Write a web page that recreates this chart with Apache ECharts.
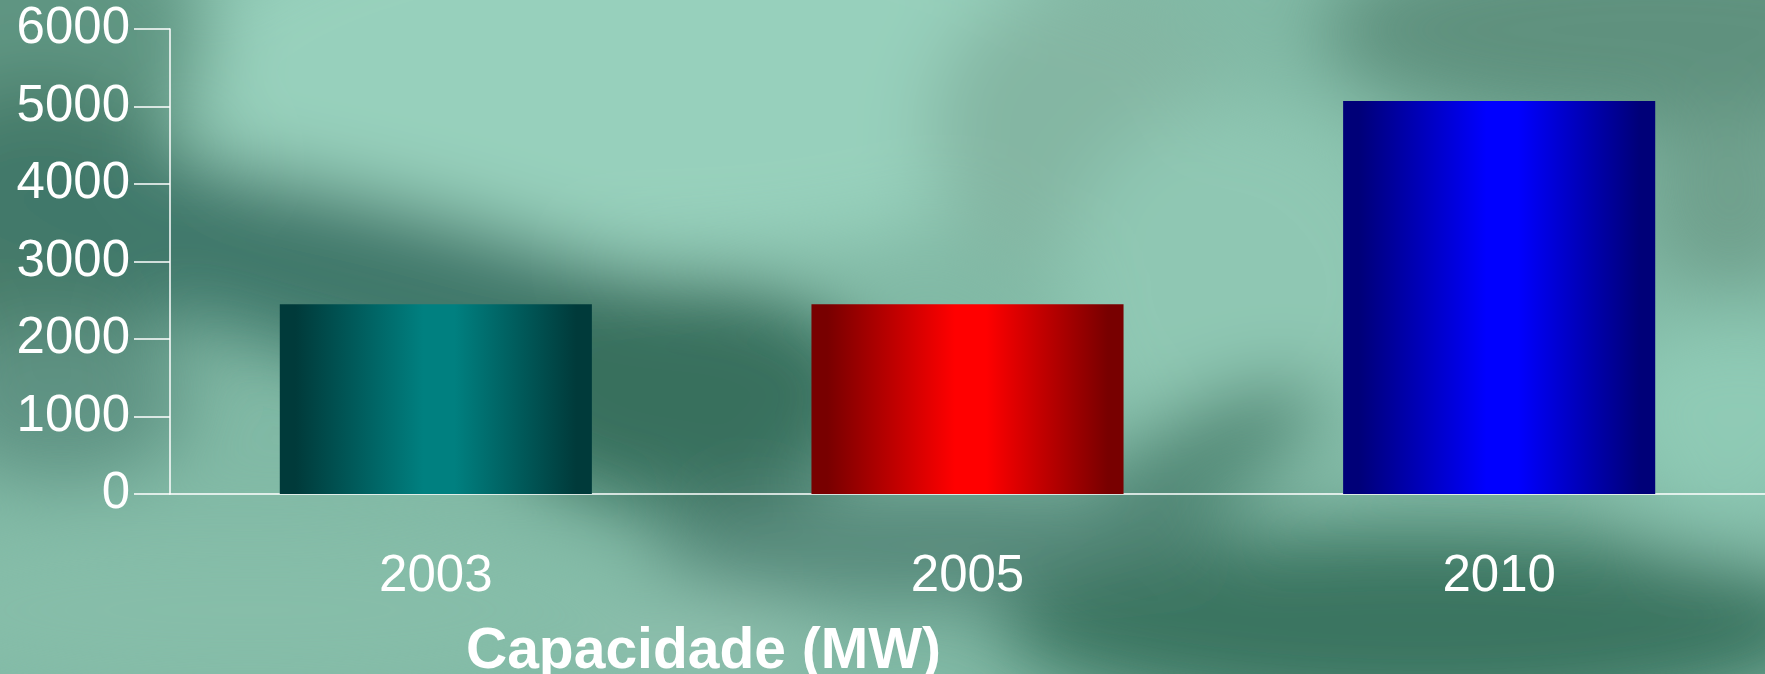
<!DOCTYPE html>
<html>
<head>
<meta charset="utf-8">
<script src="https://cdn.jsdelivr.net/npm/echarts@6/dist/echarts.min.js"></script>
<style>
html, body { margin: 0; padding: 0; }
#fundo { position: absolute; left: 0; top: 0; }
#chart { position: absolute; left: 0; top: 0; width: 1765px; height: 674px; }
</style>
</head>
<body>
<!-- fundo verde (textura aproximada) -->
<svg id="fundo" width="1765" height="674" xmlns="http://www.w3.org/2000/svg">
  <defs>
    <filter id="borrao" x="-20%" y="-20%" width="140%" height="140%">
      <feGaussianBlur stdDeviation="38"/>
    </filter>
  </defs>
  <rect width="1765" height="674" fill="#82baa6"/>
  <g filter="url(#borrao)">
    <ellipse cx="650" cy="70" rx="480" ry="190" fill="#97d0bc"/>
    <ellipse cx="0" cy="40" rx="210" ry="150" fill="#5f9582"/>
    <ellipse cx="1080" cy="130" rx="150" ry="150" fill="#84b6a3"/>
    <ellipse cx="1240" cy="290" rx="180" ry="190" fill="#8fc7b3"/>
    <ellipse cx="40" cy="230" rx="150" ry="150" fill="#467b69"/>
    <ellipse cx="60" cy="400" rx="130" ry="80" fill="#5f9383"/>
    <ellipse cx="380" cy="285" rx="460" ry="85" fill="#41786a" transform="rotate(14 380 285)"/>
    <ellipse cx="680" cy="395" rx="190" ry="115" fill="#386f5d"/>
    <ellipse cx="1650" cy="30" rx="330" ry="100" fill="#5e917e"/>
    <ellipse cx="1730" cy="200" rx="90" ry="90" fill="#6fa08d"/>
    <ellipse cx="1740" cy="410" rx="140" ry="90" fill="#8fcab5"/>
    <ellipse cx="1210" cy="450" rx="130" ry="45" fill="#4e8572" transform="rotate(-25 1210 450)"/>
    <ellipse cx="950" cy="545" rx="300" ry="60" fill="#56897a"/>
    <ellipse cx="1420" cy="625" rx="420" ry="95" fill="#3a7460"/>
    <ellipse cx="1720" cy="515" rx="80" ry="35" fill="#8ac4b0"/>
    <ellipse cx="250" cy="610" rx="380" ry="80" fill="#86bda9"/>
    <ellipse cx="700" cy="650" rx="120" ry="40" fill="#8fc0ae"/>
  </g>
</svg>
<div id="chart"></div>
<script>
// dados
const anos = ['2003', '2005', '2010'];
const capacidade = [2450, 2450, 5070];
const cor_borda = ['#003a3a', '#780000', '#000078'];
const cor_centro = ['#008080', '#ff0000', '#0000ff'];

let meu_grafico = echarts.init(document.getElementById('chart'));

let dados_barras = capacidade.map((v, i) => ({
    value: v,
    itemStyle: {
        color: new echarts.graphic.LinearGradient(0, 0, 1, 0, [
            { offset: 0, color: cor_borda[i] },
            { offset: 0.05, color: cor_borda[i] },
            { offset: 0.46, color: cor_centro[i] },
            { offset: 0.56, color: cor_centro[i] },
            { offset: 0.95, color: cor_borda[i] },
            { offset: 1, color: cor_borda[i] }
        ])
    }
}));

const fonte = 'Liberation Sans, Arial, sans-serif';

meu_grafico.setOption({
    animation: false,
    title: {
        text: 'Capacidade (MW)',
        left: 466,
        top: 624,
        padding: 0,
        textStyle: {
            color: '#ffffff',
            fontSize: 57,
            fontWeight: 'bold',
            fontFamily: fonte
        }
    },
    grid: {
        left: 170,
        right: -8,
        top: 29,
        bottom: 180
    },
    xAxis: {
        type: 'category',
        data: anos,
        axisLine: { lineStyle: { color: '#ffffff', width: 1.5 } },
        axisTick: { length: 16, lineStyle: { color: '#ffffff', width: 1.5 } },
        axisLabel: {
            color: '#ffffff',
            fontSize: 51,
            margin: 57,
            fontFamily: fonte
        }
    },
    yAxis: {
        type: 'value',
        min: 0,
        max: 6000,
        interval: 1000,
        splitLine: { show: false },
        axisLine: { show: true, lineStyle: { color: '#ffffff', width: 1.5 } },
        axisTick: { show: true, length: 36, lineStyle: { color: '#ffffff', width: 1.5 } },
        axisLabel: {
            color: '#ffffff',
            fontSize: 51,
            margin: 40,
            fontFamily: fonte,
            formatter: v => String(v)
        }
    },
    series: [{
        type: 'bar',
        data: dados_barras,
        barWidth: '58.7%'
    }]
});
</script>
</body>
</html>
